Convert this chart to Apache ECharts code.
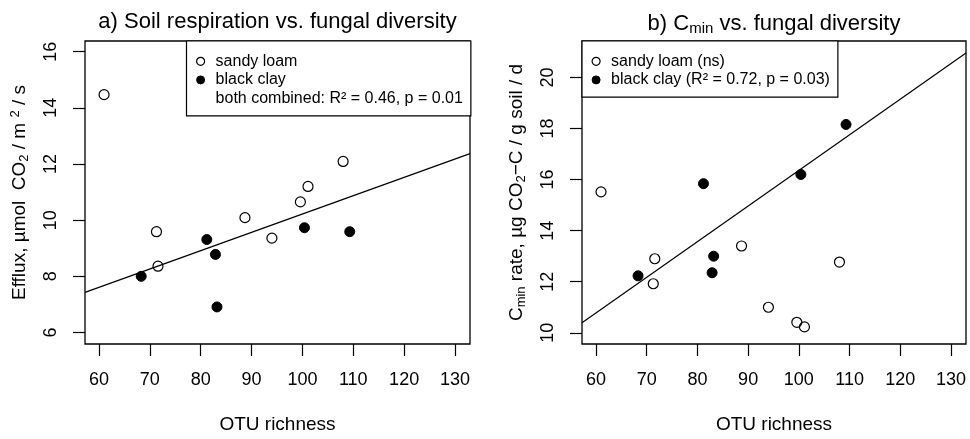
<!DOCTYPE html>
<html>
<head>
<meta charset="utf-8">
<script src="https://cdn.jsdelivr.net/npm/echarts@6/dist/echarts.min.js"></script>
<style>
html, body { margin: 0; padding: 0; background: #fff; }
#chart { width: 970px; height: 439px; }
</style>
</head>
<body>
<div id="chart"></div>
<script>
// OTU richness per sample
var sandyOtu = [61, 71.3, 71.6, 88.7, 94, 99.6, 101.1, 108];
var clayOtu = [68.3, 81.2, 82.9, 83.2, 100.4, 109.3];
// a) soil respiration (efflux)
var sandyEfflux = [14.47, 9.59, 8.36, 10.09, 9.36, 10.65, 11.2, 12.09];
var clayEfflux = [8.0, 9.31, 8.78, 6.91, 9.73, 9.59];
// b) Cmin rate
var sandyCmin = [15.52, 11.92, 12.9, 13.4, 11.0, 10.41, 10.23, 12.77];
var clayCmin = [12.23, 15.84, 12.35, 13.0, 16.2, 18.16];
var fitOtu = [57.25, 132.95];
var fitEfflux = [7.43, 12.37];
var fitCmin = [10.39, 20.96];
// ticks
var otuTicks = [60, 70, 80, 90, 100, 110, 120, 130];
var effluxTicks = [6, 8, 10, 12, 14, 16];
var cminTicks = [10, 12, 14, 16, 18, 20];

var font = "'Liberation Sans', Arial, sans-serif";
var black = '#000';

function pairs(xs, ys) {
    return xs.map(function (x, i) { return [x, ys[i]]; });
}

function xAxisFor(gi) {
    return {
        type: 'value', gridIndex: gi, min: 57.25, max: 132.95,
        name: 'OTU richness', nameLocation: 'middle', nameGap: 71,
        nameTextStyle: { fontSize: 19, color: black, fontFamily: font },
        axisLine: { show: false, onZero: false },
        axisTick: { show: true, length: 12, customValues: otuTicks, lineStyle: { color: black, width: 1.2 } },
        axisLabel: { customValues: otuTicks, fontSize: 18, margin: 27, color: black, fontFamily: font },
        splitLine: { show: false }
    };
}

var richName = {
    n: { fontSize: 19, color: black, fontFamily: font },
    sub: { fontSize: 13, color: black, fontFamily: font, padding: [9, 0, 0, 0] },
    sup: { fontSize: 13, color: black, fontFamily: font, padding: [0, 0, 9, 0] }
};

function yAxisFor(gi, min, max, ticks, name) {
    return {
        type: 'value', gridIndex: gi, min: min, max: max,
        name: name, nameLocation: 'middle', nameGap: 54, nameRotate: 90,
        nameTextStyle: { fontSize: 19, color: black, fontFamily: font, rich: richName },
        axisLine: { show: false, onZero: false },
        axisTick: { show: true, length: 12, customValues: ticks, lineStyle: { color: black, width: 1.2 } },
        axisLabel: { customValues: ticks, rotate: 90, fontSize: 18, margin: 25, color: black, fontFamily: font },
        splitLine: { show: false }
    };
}

var openStyle = { color: 'rgba(0,0,0,0)', borderColor: black, borderWidth: 1.2, opacity: 1 };
var fillStyle = { color: black, borderColor: black, borderWidth: 1, opacity: 1 };

function legendFor(left, items) {
    return {
        left: left, top: 41, orient: 'vertical',
        itemWidth: 8, itemHeight: 8, itemGap: 0,
        padding: [11, 8, 8, 9.5],
        borderColor: black, borderWidth: 1.2, backgroundColor: '#fff',
        selectedMode: false,
        textStyle: { fontSize: 16, lineHeight: 18.6, color: black, fontFamily: font, padding: [0, 0, 0, 6] },
        data: items
    };
}

var chart = echarts.init(document.getElementById('chart'));
var option = {
    animation: false,
    backgroundColor: '#fff',
    title: [
        {
            text: 'a) Soil respiration vs. fungal diversity', left: 277.5, top: 11, textAlign: 'center', padding: 0,
            textStyle: { fontSize: 22, fontWeight: 'normal', color: black, fontFamily: font }
        },
        {
            text: 'b) C{sub|min} vs. fungal diversity', left: 774, top: 11, textAlign: 'center', padding: 0,
            textStyle: {
                fontSize: 22, fontWeight: 'normal', color: black, fontFamily: font,
                rich: { sub: { fontSize: 15, color: black, fontFamily: font, padding: [10, 0, 0, 0] } }
            }
        }
    ],
    grid: [
        { left: 85, top: 41, width: 385, height: 305, show: true, borderColor: black, borderWidth: 1.3, backgroundColor: 'transparent' },
        { left: 582, top: 41, width: 384, height: 305, show: true, borderColor: black, borderWidth: 1.3, backgroundColor: 'transparent' }
    ],
    xAxis: [xAxisFor(0), xAxisFor(1)],
    yAxis: [
        yAxisFor(0, 5.59, 16.38, effluxTicks, '{n|Efflux, \u00b5mol  CO}{sub|2}{n| / m }{sup|2}{n| / s}'),
        yAxisFor(1, 9.56, 21.43, cminTicks, '{n|C}{sub|min}{n| rate, \u00b5g CO}{sub|2}{n|\u2212C / g soil / d}')
    ],
    legend: [
        legendFor(186.5, [
            { name: 'sandy loam', itemStyle: openStyle },
            { name: 'black clay', itemStyle: fillStyle },
            { name: 'both combined: R\u00b2 = 0.46, p = 0.01', icon: 'none' }
        ]),
        legendFor(582, [
            { name: 'sandy loam (ns)', itemStyle: openStyle },
            { name: 'black clay (R\u00b2 = 0.72, p = 0.03)', itemStyle: fillStyle }
        ])
    ],
    series: [
        {
            type: 'scatter', name: 'sandy loam', xAxisIndex: 0, yAxisIndex: 0,
            symbol: 'circle', symbolSize: 10, itemStyle: openStyle, data: pairs(sandyOtu, sandyEfflux), z: 3
        },
        {
            type: 'scatter', name: 'black clay', xAxisIndex: 0, yAxisIndex: 0,
            symbol: 'circle', symbolSize: 10, itemStyle: fillStyle, data: pairs(clayOtu, clayEfflux), z: 3
        },
        {
            type: 'line', name: 'both combined: R\u00b2 = 0.46, p = 0.01', xAxisIndex: 0, yAxisIndex: 0,
            symbol: 'none', lineStyle: { color: black, width: 1.2 }, itemStyle: { color: black },
            data: pairs(fitOtu, fitEfflux), z: 4
        },
        {
            type: 'scatter', name: 'sandy loam (ns)', xAxisIndex: 1, yAxisIndex: 1,
            symbol: 'circle', symbolSize: 10, itemStyle: openStyle, data: pairs(sandyOtu, sandyCmin), z: 3
        },
        {
            type: 'scatter', name: 'black clay (R\u00b2 = 0.72, p = 0.03)', xAxisIndex: 1, yAxisIndex: 1,
            symbol: 'circle', symbolSize: 10, itemStyle: fillStyle, data: pairs(clayOtu, clayCmin), z: 3
        },
        {
            type: 'line', name: 'fit b', xAxisIndex: 1, yAxisIndex: 1,
            symbol: 'none', lineStyle: { color: black, width: 1.2 }, itemStyle: { color: black },
            data: pairs(fitOtu, fitCmin), z: 4
        }
    ]
};
chart.setOption(option);
</script>
</body>
</html>
